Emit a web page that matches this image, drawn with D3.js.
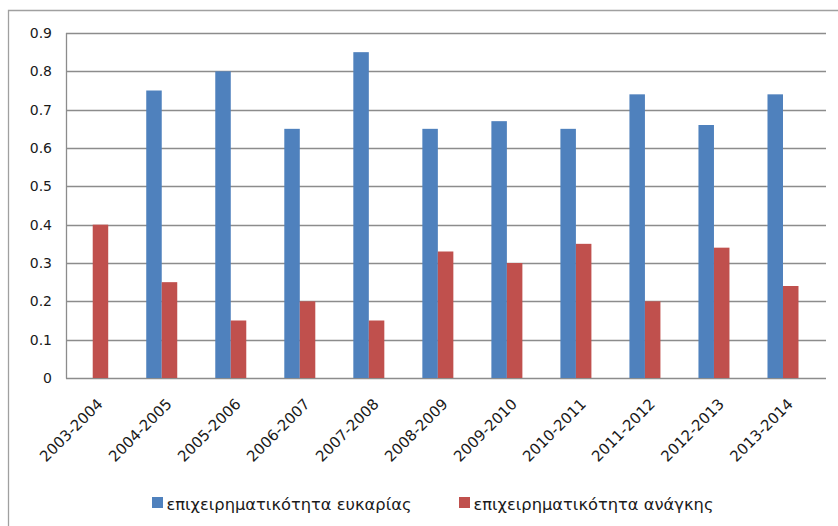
<!DOCTYPE html>
<html lang="el">
<head>
  <meta charset="UTF-8">
  <title>επιχειρηματικότητα</title>
  <script src="https://cdn.jsdelivr.net/npm/d3@7"></script>
  <style>
    *{
      margin: 0;
      padding: 0;
    }
    body{
      background: #fff;
      width: 838px;
      height: 526px;
      overflow: hidden;
    }
    svg text{
      font-family: 'DejaVu Sans', sans-serif;
      fill: #1a1a1a;
    }
    .grid line{
      stroke: #8c8c8c;
      stroke-width: 1.3;
    }
  </style>
</head>
<body>
  <svg id="chart" width="838" height="526"></svg>
  <script>
    // data
    var years = ["2003-2004","2004-2005","2005-2006","2006-2007","2007-2008","2008-2009",
                 "2009-2010","2010-2011","2011-2012","2012-2013","2013-2014"];
    var opportunity = [0, 0.75, 0.80, 0.65, 0.85, 0.65, 0.67, 0.65, 0.74, 0.66, 0.74];
    var necessity   = [0.40, 0.25, 0.15, 0.20, 0.15, 0.33, 0.30, 0.35, 0.20, 0.34, 0.24];
    var seriesNames = ["επιχειρηματικότητα ευκαρίας", "επιχειρηματικότητα ανάγκης"];
    var seriesColors = ["#4f81bd", "#c0504d"];
    var yTicks = [0, 0.1, 0.2, 0.3, 0.4, 0.5, 0.6, 0.7, 0.8, 0.9];

    var svg = d3.select("#chart");

    // outer frame
    svg.append("path")
      .attr("d", "M8.5,526 L8.5,10.5 L838,10.5")
      .attr("fill", "none")
      .attr("stroke", "#a0a0a0")
      .attr("stroke-width", 1.3);

    var plotLeft = 66, plotRight = 826, plotTop = 33, plotBottom = 378;

    var y = d3.scaleLinear().domain([0, 0.9]).range([plotBottom, plotTop]);
    var x0 = d3.scaleBand().domain(years).range([58.2, 817.5]);
    var x1 = d3.scaleBand().domain([0, 1]).range([0, 31]);

    // gridlines
    var grid = svg.append("g").attr("class", "grid");
    grid.selectAll("line")
      .data(yTicks)
      .enter().append("line")
      .attr("x1", plotLeft)
      .attr("x2", plotRight)
      .attr("y1", function(d) { return Math.round(y(d)) + 0.5; })
      .attr("y2", function(d) { return Math.round(y(d)) + 0.5; });

    // y axis line
    svg.append("line")
      .attr("x1", plotLeft + 0.5).attr("x2", plotLeft + 0.5)
      .attr("y1", plotTop).attr("y2", plotBottom + 0.5)
      .attr("stroke", "#8c8c8c").attr("stroke-width", 1.3);

    // y labels
    svg.append("g").selectAll("text")
      .data(yTicks)
      .enter().append("text")
      .attr("x", 52)
      .attr("y", function(d) { return y(d) + 5; })
      .attr("text-anchor", "end")
      .style("font-size", "14px")
      .text(function(d) { return d === 0 ? "0" : d3.format(".1f")(d); });

    // bars
    var seriesData = [opportunity, necessity];
    var groups = svg.append("g").selectAll("g")
      .data(years)
      .enter().append("g")
      .attr("transform", function(d) {
        return "translate(" + (x0(d) + x0.bandwidth() / 2 - 15.5) + ",0)";
      });

    groups.selectAll("rect")
      .data(function(d, i) {
        return seriesData.map(function(s, k) { return {k: k, v: s[i]}; });
      })
      .enter().append("rect")
      .filter(function(d) { return d.v > 0; })
      .attr("x", function(d) { return x1(d.k); })
      .attr("width", x1.bandwidth())
      .attr("y", function(d) { return y(d.v); })
      .attr("height", function(d) { return plotBottom - y(d.v); })
      .attr("fill", function(d) { return seriesColors[d.k]; });

    // x labels
    svg.append("g").selectAll("text")
      .data(years)
      .enter().append("text")
      .attr("text-anchor", "end")
      .attr("transform", function(d) {
        var cx = x0(d) + x0.bandwidth() / 2 + 11;
        return "translate(" + cx + ",405) rotate(-45)";
      })
      .style("font-size", "15px")
      .text(function(d) { return d; });

    // legend
    var legendX = [152, 459];
    var legend = svg.append("g").selectAll("g")
      .data(seriesNames)
      .enter().append("g")
      .attr("transform", function(d, i) { return "translate(" + legendX[i] + ",497)"; });
    legend.append("rect")
      .attr("width", 11).attr("height", 11)
      .attr("fill", function(d, i) { return seriesColors[i]; });
    legend.append("text")
      .attr("x", 14.5)
      .attr("y", 12.5)
      .style("font-size", "16.3px")
      .text(function(d) { return d; });
  </script>
</body>
</html>
